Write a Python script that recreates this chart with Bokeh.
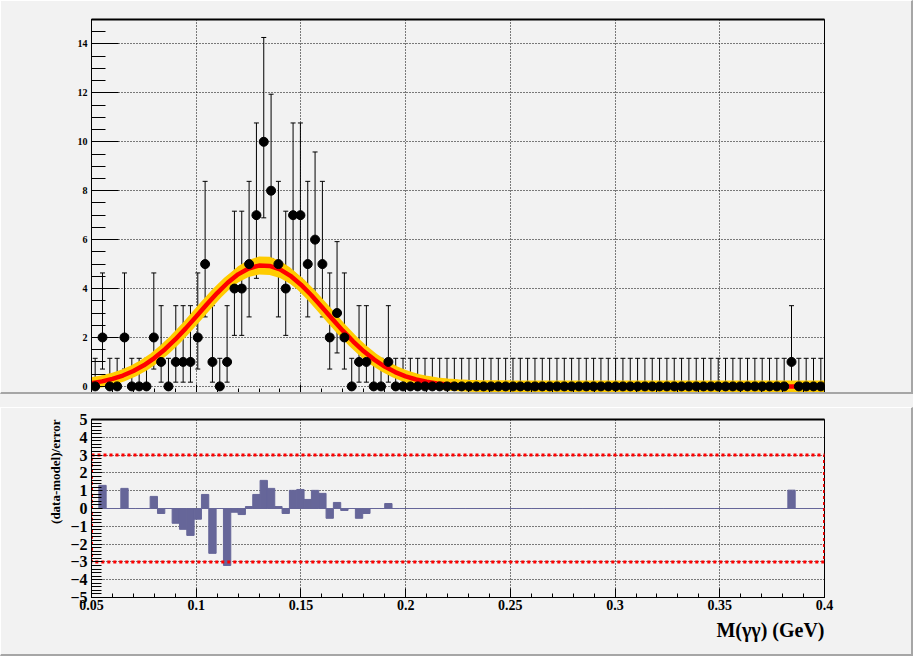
import numpy as np
from bokeh.plotting import figure
from bokeh.layouts import column
from bokeh.models import (ColumnDataSource, Whisker, TeeHead, Title, LinearAxis,
                          Range1d, SingleIntervalTicker, CustomJSTickFormatter,
                          CustomLabelingPolicy)
from bokeh.embed import file_html
from bokeh.resources import INLINE

# ---------------- data ----------------
x_min, x_max, n_bins = 0.05, 0.40, 100

counts = [0, 2, 0, 0, 2, 0, 0, 0, 2, 1,
          0, 1, 1, 1, 2, 5, 1, 0, 1, 4,
          4, 5, 7, 10, 8, 5, 4, 7, 7, 5,
          6, 5, 2, 3, 2, 0, 1, 1, 0, 0,
          1] + [0] * 54 + [1, 0, 0, 0, 0]

pulls = [0, 1.30, 0, 0, 1.13, 0, 0, 0, 0.68, -0.28,
         0, -0.83, -1.17, -1.51, -0.60, 0.79, -2.52, 0, -3.20, -0.21,
         -0.34, 0.11, 0.79, 1.58, 1.13, 0.11, -0.28, 1.02, 1.07, 0.51,
         1.02, 0.85, -0.55, 0.34, -0.11, 0, -0.55, -0.28, 0, 0,
         0.28] + [0] * 54 + [1.03, 0, 0, 0, 0]

# 68% Poisson (Garwood) interval bounds by count
poisson_lo = {0: 0.0, 1: 0.1727, 2: 0.7083, 3: 1.3672, 4: 2.0857, 5: 2.8403,
              6: 3.6200, 7: 4.4185, 8: 5.2316, 10: 6.8914}
poisson_hi = {0: 1.1479, 1: 3.2995, 2: 4.6382, 3: 5.9182, 4: 7.1628, 5: 8.3825,
              6: 9.5836, 7: 10.7703, 8: 11.9454, 10: 14.2653}

curve_x = [0.050, 0.055, 0.060, 0.065, 0.070, 0.075, 0.080, 0.085, 0.090, 0.095,
           0.100, 0.105, 0.110, 0.115, 0.120, 0.125, 0.130, 0.135, 0.140, 0.145,
           0.150, 0.155, 0.160, 0.165, 0.170, 0.175, 0.180, 0.185, 0.190, 0.195,
           0.200, 0.205, 0.210, 0.215, 0.220, 0.225, 0.230, 0.235, 0.240, 0.245,
           0.250, 0.300, 0.350, 0.400]
curve_y = [0.133, 0.204, 0.305, 0.443, 0.627, 0.863, 1.157, 1.510, 1.918, 2.372,
           2.855, 3.345, 3.816, 4.238, 4.581, 4.821, 4.940, 4.926, 4.783, 4.520,
           4.159, 3.725, 3.248, 2.757, 2.278, 1.833, 1.435, 1.094, 0.812, 0.586,
           0.412, 0.282, 0.188, 0.122, 0.077, 0.047, 0.028, 0.017, 0.009, 0.005,
           0.003, 0.0, 0.0, 0.0]
band_err = [0.02, 0.03, 0.04, 0.05, 0.06, 0.07, 0.09, 0.11, 0.14, 0.17,
            0.20, 0.23, 0.27, 0.30, 0.33, 0.35, 0.37, 0.37, 0.35, 0.33,
            0.30, 0.27, 0.24, 0.20, 0.17, 0.14, 0.11, 0.08, 0.06, 0.04,
            0.03, 0.02, 0.01, 0.01, 0.01, 0.0, 0.0, 0.0, 0.0, 0.0,
            0.0, 0.0, 0.0, 0.0]

pull_limit = 3
x_title = "M(\u03b3\u03b3) (GeV)"
y_title_pull = "(data-model)/error"

# ---------------- style ----------------
BG = "#f2f2f2"
FONT = "Liberation Serif"
GRAY = "#a6a6a6"
PULL_COLOR = "#666699"

edges = np.linspace(x_min, x_max, n_bins + 1)
centers = 0.5 * (edges[:-1] + edges[1:])
bin_w = edges[1] - edges[0]

x_fmt = CustomJSTickFormatter(code="var s = tick.toFixed(2); if (s.endsWith('0')) s = s.slice(0, -1); return s;")
int_fmt = CustomJSTickFormatter(code="var v = Math.round(tick); return v < 0 ? '\u2212' + (-v) : '' + v;")


def no_labels():
    return CustomLabelingPolicy(code="const a = [...indices]; for (const i of a) { indices.unset(i) } return indices;")


def style_common(p):
    p.background_fill_color = BG
    p.border_fill_color = BG
    p.outline_line_color = "black"
    p.outline_line_width = 1
    for g in (p.xgrid[0], p.ygrid[0]):
        g.grid_line_color = "black"
        g.grid_line_dash = "1 2"
        g.grid_line_width = 1


def top_line_axis():
    return LinearAxis(major_tick_in=0, major_tick_out=0, minor_tick_in=0, minor_tick_out=0,
                      major_label_policy=no_labels(), major_label_text_font_size="0px",
                      major_label_standoff=0, axis_line_width=2, axis_line_color="black")


# ---------------- upper pad ----------------
up = figure(width=913, height=394, x_range=Range1d(x_min, x_max), y_range=Range1d(-0.25, 15),
            output_backend="svg", toolbar_location=None,
            min_border_left=90, min_border_right=90, min_border_top=18, min_border_bottom=3)
style_common(up)
up.styles = {"border-top": "1px solid #ffffff", "border-left": "1px solid #ffffff",
             "border-right": "2px solid " + GRAY, "border-bottom": "2px solid " + GRAY}

up.xaxis.ticker = SingleIntervalTicker(interval=0.05, num_minor_ticks=5)
up.xaxis.major_label_policy = no_labels()
up.xaxis.major_label_text_font_size = "0px"
up.xaxis.major_label_standoff = 0
up.xaxis.major_tick_in = 8
up.xaxis.major_tick_out = 0
up.xaxis.minor_tick_in = 4
up.xaxis.minor_tick_out = 0

up.yaxis.ticker = SingleIntervalTicker(interval=2, num_minor_ticks=4)
up.yaxis.formatter = int_fmt
up.yaxis.major_tick_in = 27
up.yaxis.major_tick_out = 0
up.yaxis.minor_tick_in = 14
up.yaxis.minor_tick_out = 0
up.yaxis.major_label_standoff = 4
up.yaxis.major_label_text_font = FONT
up.yaxis.major_label_text_font_style = "bold"
up.yaxis.major_label_text_font_size = "10px"
up.yaxis.major_label_text_color = "black"

up.add_layout(top_line_axis(), "above")

band_lo = [y - e for y, e in zip(curve_y, band_err)]
band_hi = [y + e for y, e in zip(curve_y, band_err)]
up.varea(x=curve_x, y1=band_lo, y2=band_hi, fill_color="#ffcc00")
up.line(curve_x, curve_y, line_color="#ffcc00", line_width=12)
up.line(curve_x, curve_y, line_color="#ff0000", line_width=4.5)

src = ColumnDataSource(dict(x=centers, n=counts,
                            lo=[poisson_lo[c] for c in counts],
                            hi=[poisson_hi[c] for c in counts]))
up.add_layout(Whisker(source=src, base="x", upper="hi", lower="lo", line_color="black", line_width=1,
                      upper_head=TeeHead(size=5, line_color="black", line_width=1),
                      lower_head=TeeHead(size=5, line_color="black", line_width=1)))
up.scatter("x", "n", source=src, size=9, color="black")

# ---------------- lower pad ----------------
lo = figure(width=913, height=249, x_range=Range1d(x_min, x_max), y_range=Range1d(-5, 5),
            output_backend="svg", toolbar_location=None,
            min_border_left=90, min_border_right=90, min_border_top=11, min_border_bottom=60)
style_common(lo)
lo.styles = {"border-top": "1px solid #ffffff", "border-left": "1px solid #ffffff",
             "border-right": "2px solid " + GRAY, "border-bottom": "2px solid " + GRAY}

lo.xaxis.ticker = SingleIntervalTicker(interval=0.05, num_minor_ticks=5)
lo.xaxis.formatter = x_fmt
lo.xaxis.major_tick_in = 9
lo.xaxis.major_tick_out = 0
lo.xaxis.minor_tick_in = 4
lo.xaxis.minor_tick_out = 0
lo.xaxis.major_label_standoff = 2
lo.xaxis.major_label_text_font = FONT
lo.xaxis.major_label_text_font_style = "bold"
lo.xaxis.major_label_text_font_size = "14px"
lo.xaxis.major_label_text_color = "black"

lo.yaxis.ticker = SingleIntervalTicker(interval=1, num_minor_ticks=5)
lo.yaxis.formatter = int_fmt
lo.yaxis.major_tick_in = 11
lo.yaxis.major_tick_out = 0
lo.yaxis.minor_tick_in = 10
lo.yaxis.minor_tick_out = 0
lo.yaxis.major_label_standoff = 4
lo.yaxis.major_label_text_font = FONT
lo.yaxis.major_label_text_font_style = "bold"
lo.yaxis.major_label_text_font_size = "16px"
lo.yaxis.major_label_text_color = "black"

lo.add_layout(top_line_axis(), "above")

lo.vbar(x=centers, top=pulls, bottom=0, width=bin_w, fill_color=PULL_COLOR, line_color=PULL_COLOR)
lo.quad(left=x_min, right=x_max, bottom=-pull_limit, top=pull_limit, fill_alpha=0,
        line_color="#ff0000", line_width=3, line_dash="3 3")

lo.add_layout(Title(text=y_title_pull, align="right", text_font=FONT, text_font_style="bold",
                    text_font_size="13px", text_color="black", standoff=10), "left")
lo.add_layout(Title(text=x_title, align="right", text_font=FONT, text_font_style="bold",
                    text_font_size="20px", text_color="black", standoff=8), "below")

layout = column(up, lo, spacing=13, styles={"background-color": BG})

open("out.html", "w").write(file_html(layout, INLINE))
